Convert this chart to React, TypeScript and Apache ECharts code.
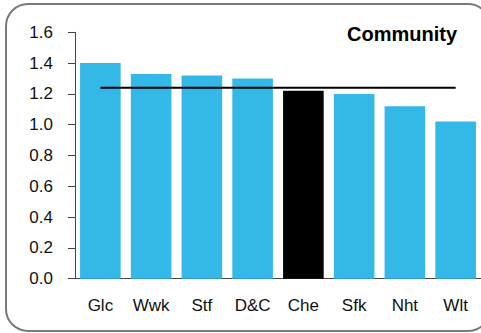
import React, { useEffect, useRef } from "react";
import * as echarts from "echarts";

const categories = ["Glc", "Wwk", "Stf", "D&C", "Che", "Sfk", "Nht", "Wlt"];
const values = [1.4, 1.33, 1.32, 1.3, 1.22, 1.2, 1.12, 1.02];
const highlight = "Che";
const averageValue = 1.24;
const averageLine = categories.map(() => averageValue);
const titleText = "Community";

export default function App() {
  const ref = useRef<HTMLDivElement>(null);
  useEffect(() => {
    if (!ref.current) return;
    const chart = echarts.init(ref.current, null, { renderer: "svg" });
    const font = "'Liberation Sans', Arial, sans-serif";
    chart.setOption({
      animation: false,
      textStyle: { fontFamily: font },
      grid: { left: 75, top: 32.3, width: 408, height: 246.4, containLabel: false },
      xAxis: {
        type: "category",
        data: categories,
        axisLine: { lineStyle: { color: "#444", width: 1 } },
        axisTick: { show: false },
        axisLabel: { color: "#111", fontSize: 17, margin: 18, fontFamily: font },
      },
      yAxis: {
        type: "value",
        min: 0,
        max: 1.6,
        interval: 0.2,
        splitLine: { show: false },
        axisLine: { show: true, lineStyle: { color: "#444", width: 1 } },
        axisTick: { show: true, length: 7, lineStyle: { color: "#444" } },
        axisLabel: {
          color: "#111",
          fontSize: 17,
          margin: 22,
          fontFamily: font,
          formatter: (v: number) => v.toFixed(1),
        },
      },
      series: [
        {
          type: "bar",
          barCategoryGap: "20%",
          data: values.map((v, i) => ({
            value: v,
            itemStyle: { color: categories[i] === highlight ? "#000000" : "#33b8e8" },
          })),
        },
        {
          type: "line",
          data: averageLine,
          symbol: "none",
          lineStyle: { color: "#000", width: 2 },
          z: 5,
        },
      ],
      graphic: [
        {
          type: "rect",
          shape: { x: 6, y: 4, width: 484, height: 327, r: 22 },
          style: { fill: "none", stroke: "#7a7a7a", lineWidth: 2 },
          silent: true,
        },
        {
          type: "text",
          x: 457,
          y: 34,
          style: {
            text: titleText,
            fontSize: 20,
            fontWeight: "bold",
            fontFamily: font,
            fill: "#000",
            textAlign: "right",
            textVerticalAlign: "middle",
          },
        },
      ],
    });
    return () => chart.dispose();
  }, []);
  return (
    <div
      ref={ref}
      style={{ position: "fixed", left: 0, top: 0, width: 481, height: 333, background: "#fff" }}
    />
  );
}
